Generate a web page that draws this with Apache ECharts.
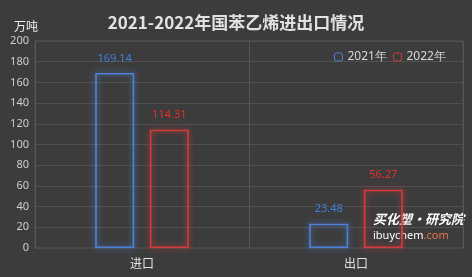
<!DOCTYPE html>
<html><head><meta charset="utf-8">
<script src="https://cdn.jsdelivr.net/npm/echarts@6/dist/echarts.min.js"></script>
<style>html,body{margin:0;padding:0;background:#3c3c3c}#c{width:472px;height:277px}</style>
</head><body><div id="c"></div>
<script>
var categories = ['进口', '出口'];
var series2021 = [169.14, 23.48];
var series2022 = [114.31, 56.27];
var seriesNames = ['2021年', '2022年'];
var yTicks = [0, 20, 40, 60, 80, 100, 120, 140, 160, 180, 200];

var chart = echarts.init(document.getElementById('c'));
function barSeries(name, data, col, labelCol) {
  return {
    name: name, type: 'bar', data: data, barWidth: 39, barGap: '40%',
    itemStyle: { color: 'rgba(0,0,0,0)', borderColor: col, borderWidth: 1.6, shadowBlur: 6, shadowColor: col },
    label: { show: true, position: 'top', distance: 9, color: labelCol, fontSize: 11, fontFamily: 'Noto Sans' },
    emphasis: { disabled: true }
  };
}
chart.setOption({
  backgroundColor: '#3c3c3c',
  animation: false,
  title: { text: '2021-2022年国苯乙烯进出口情况', left: 'center', top: 9,
    textStyle: { color: '#e2e2e2', fontSize: 17, fontWeight: 'bold', fontFamily: 'Noto Sans CJK SC' } },
  legend: { top: 46, left: 329, itemWidth: 8, itemHeight: 8, itemGap: 6,
    itemStyle: { borderWidth: 1, shadowBlur: 0 },
    textStyle: { color: '#d8d8d8', fontSize: 12, fontFamily: 'Noto Sans' }, data: seriesNames },
  grid: { left: 35, right: 9, top: 41, bottom: 29, show: true, borderColor: '#555', borderWidth: 1 },
  xAxis: { type: 'category', data: categories,
    axisLine: { show: true, lineStyle: { color: '#4a4a4a' } }, axisTick: { show: false },
    splitLine: { show: true, lineStyle: { color: '#555' } },
    axisLabel: { color: '#e0e0e0', fontSize: 12, margin: 9, fontFamily: 'Noto Sans CJK SC' } },
  yAxis: { type: 'value', min: 0, max: 200, interval: 20,
    axisLine: { show: true, lineStyle: { color: '#555' } }, axisTick: { show: false },
    splitLine: { lineStyle: { color: '#505050' } },
    axisLabel: { color: '#cfcfcf', fontSize: 11, margin: 6, fontFamily: 'Noto Sans',
      formatter: function (v) { return yTicks.indexOf(v) >= 0 ? String(v) : ''; } } },
  graphic: [
    { type: 'text', left: 14, top: 20, style: { text: '万吨', fill: '#f0f0f0', fontSize: 12, fontFamily: 'Noto Sans CJK SC' } },
    { type: 'text', left: 373, top: 213, style: { text: '买化塑·研究院', fill: '#ffffff', fontSize: 13, fontWeight: 'bold', fontStyle: 'italic', fontFamily: 'Noto Sans CJK SC' } },
    { type: 'text', left: 373, top: 230, style: { text: '{a|ibuychem}{b|.com}', fontSize: 11,
      rich: { a: { fill: '#ffffff', fontSize: 11, fontFamily: 'Noto Sans' }, b: { fill: '#e8734a', fontSize: 11, fontFamily: 'Noto Sans' } } } }
  ],
  series: [
    barSeries(seriesNames[0], series2021, '#4f80d6', '#3f7fd8'),
    barSeries(seriesNames[1], series2022, '#d43c3c', '#e62e2e')
  ]
});
</script></body></html>
